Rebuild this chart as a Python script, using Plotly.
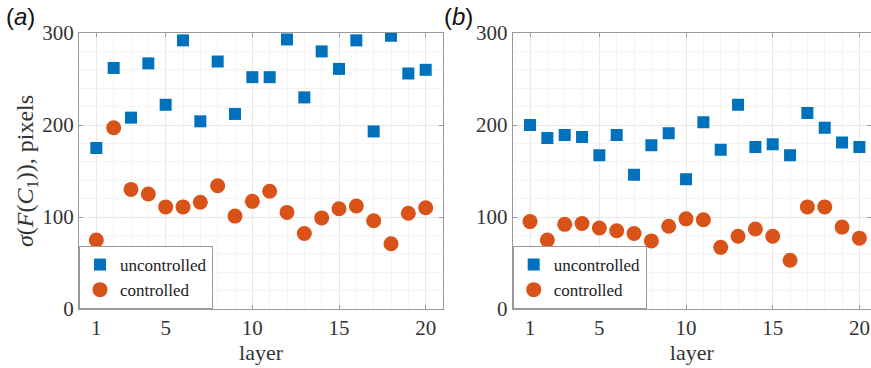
import plotly.graph_objects as go

layers = list(range(1, 21))
a_uncontrolled = [175, 262, 208, 267, 222, 292, 204, 269, 212, 252, 252, 293, 230, 280, 261, 292, 193, 297, 256, 260]
a_controlled = [75, 197, 130, 125, 111, 111, 116, 134, 101, 117, 128, 105, 82, 99, 109, 112, 96, 71, 104, 110]
b_uncontrolled = [200, 186, 189, 187, 167, 189, 146, 178, 191, 141, 203, 173, 222, 176, 179, 167, 213, 197, 181, 176]
b_controlled = [95, 75, 92, 93, 88, 85, 82, 74, 90, 98, 97, 67, 79, 87, 79, 53, 111, 111, 89, 77]
x_ticks = [1, 5, 10, 15, 20]
y_ticks = [0, 100, 200, 300]

BLUE = "#0072BD"
ORANGE = "#D95319"
SERIF = "Liberation Serif, Times New Roman, serif"
SANS = "Liberation Sans, Arial, sans-serif"

fig = go.Figure()
fig.add_trace(go.Scatter(x=layers, y=a_uncontrolled, mode="markers", name="uncontrolled",
                         marker=dict(symbol="square", size=12, color=BLUE),
                         xaxis="x", yaxis="y", legend="legend"))
fig.add_trace(go.Scatter(x=layers, y=a_controlled, mode="markers", name="controlled",
                         marker=dict(symbol="circle", size=15, color=ORANGE),
                         xaxis="x", yaxis="y", legend="legend"))
fig.add_trace(go.Scatter(x=layers, y=b_uncontrolled, mode="markers", name="uncontrolled",
                         marker=dict(symbol="square", size=12, color=BLUE),
                         xaxis="x2", yaxis="y2", legend="legend2"))
fig.add_trace(go.Scatter(x=layers, y=b_controlled, mode="markers", name="controlled",
                         marker=dict(symbol="circle", size=15, color=ORANGE),
                         xaxis="x2", yaxis="y2", legend="legend2"))

W, H = 871, 368
ML, MR, MT, MB = 79, 0, 33, 59
PW = W - ML - MR

axis_common = dict(
    showline=True, linecolor="#999999", linewidth=1, mirror="allticks",
    ticks="inside", ticklen=4, tickcolor="#999999",
    showgrid=True, gridcolor="#e8e8e8", gridwidth=1, zeroline=False,
    tickfont=dict(family=SERIF, size=21, color="#333333"),
    automargin=False,
)

xa = dict(axis_common, tickvals=x_ticks,
          title=dict(text="layer", font=dict(family=SERIF, size=22, color="#333333"), standoff=0),
          minor=dict(showgrid=True, gridcolor="#f4f4f4", dtick=1, tick0=0, ticks=""))
ya = dict(axis_common, tickvals=y_ticks, range=[0, 300],
          minor=dict(showgrid=True, gridcolor="#f4f4f4", dtick=20, tick0=0, ticks=""))

legend_common = dict(
    y=0, xanchor="left", yanchor="bottom",
    bgcolor="white", bordercolor="#999999", borderwidth=1,
    font=dict(family=SERIF, size=17, color="#222222"),
    tracegroupgap=0, itemwidth=30,
)

fig.update_layout(
    width=W, height=H,
    margin=dict(l=ML, r=MR, t=MT, b=MB, autoexpand=False),
    plot_bgcolor="white", paper_bgcolor="white",
    xaxis=dict(xa, domain=[0, (443 - ML) / PW], range=[0, 21], anchor="y"),
    yaxis=dict(ya, domain=[0, 1], anchor="x",
               title=dict(text="<i>σ</i>(<i>F</i>(<i>C</i><sub>1</sub>)), pixels",
                          font=dict(family=SERIF, size=24, color="#333333"), standoff=0)),
    xaxis2=dict(xa, domain=[(512.7 - ML) / PW, 1.0], range=[0, 20.67], anchor="y2"),
    yaxis2=dict(ya, domain=[0, 1], anchor="x2"),
    legend=dict(legend_common, x=0),
    legend2=dict(legend_common, x=(512.7 - ML) / PW),
    annotations=[
        dict(text="(<i>a</i>)", x=(4 - ML) / PW, y=(H - MB - 1) / (H - MT - MB), xref="paper", yref="paper",
             xanchor="left", yanchor="top", showarrow=False,
             font=dict(family=SANS, size=24, color="#111111")),
        dict(text="(<i>b</i>)", x=(442 - ML) / PW, y=(H - MB - 1) / (H - MT - MB), xref="paper", yref="paper",
             xanchor="left", yanchor="top", showarrow=False,
             font=dict(family=SANS, size=24, color="#111111")),
    ],
)

fig.write_html("out.html", config={"displayModeBar": False},
               post_script="document.body.style.margin='0';")
